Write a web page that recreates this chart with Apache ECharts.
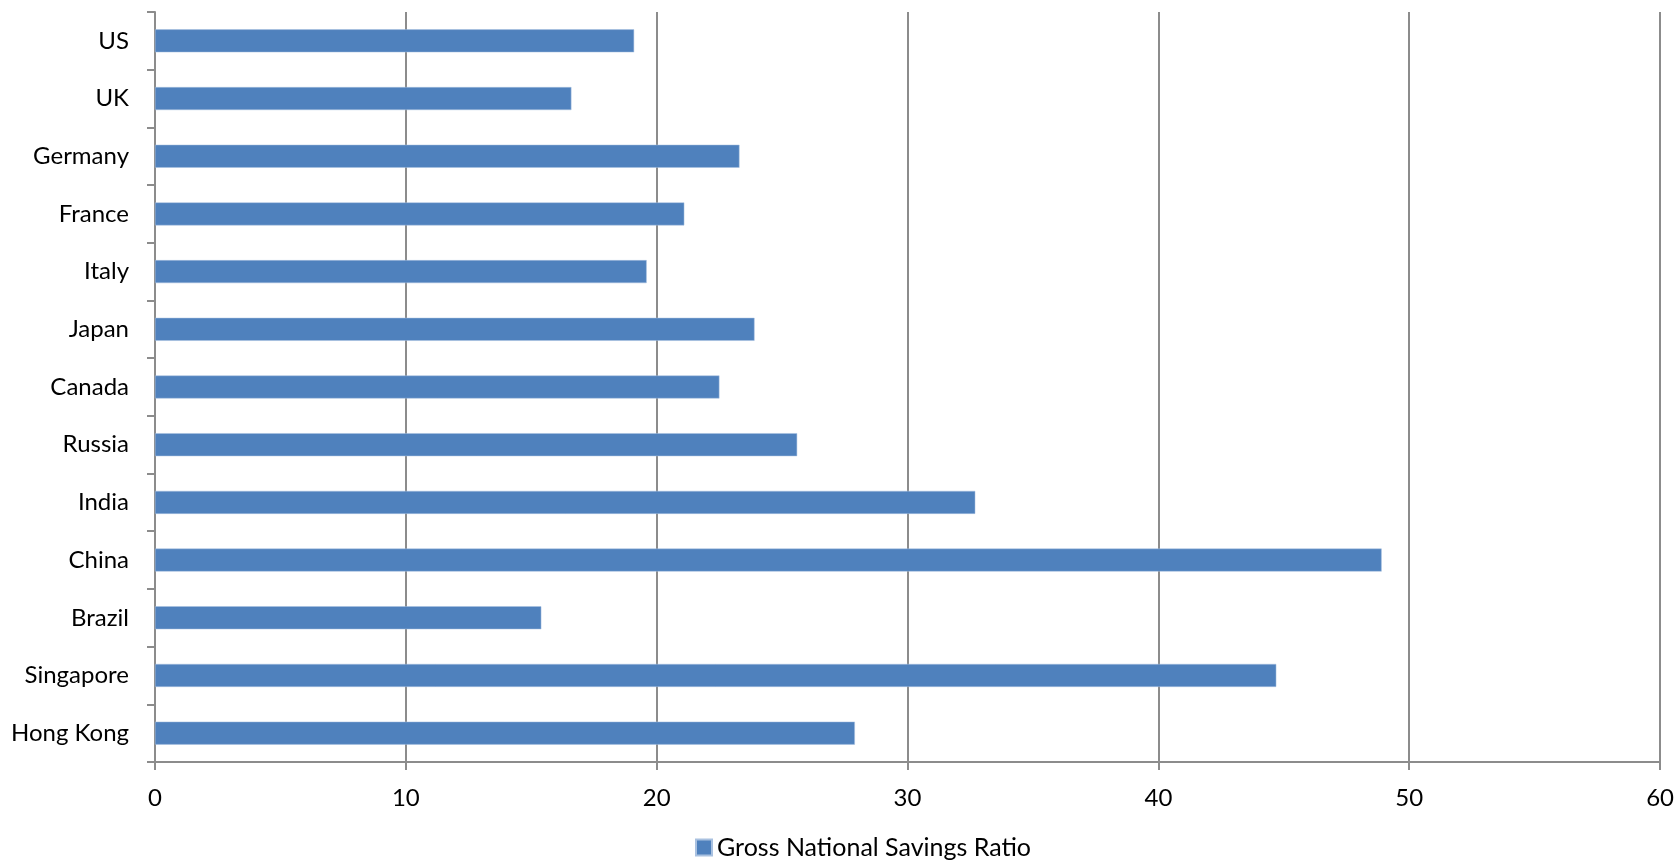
<!DOCTYPE html>
<html>
<head>
<meta charset="utf-8">
<script src="https://cdn.jsdelivr.net/npm/echarts@6/dist/echarts.min.js"></script>
<style>
html,body{margin:0;padding:0;background:#fff;}
#chart{width:1677px;height:865px;}
</style>
</head>
<body>
<div id="chart"></div>
<script>
const categories = ["US","UK","Germany","France","Italy","Japan","Canada","Russia","India","China","Brazil","Singapore","Hong Kong"];
const savingsRatio = [19.1,16.6,23.3,21.1,19.6,23.9,22.5,25.6,32.7,48.9,15.4,44.7,27.9];
const seriesName = "Gross National Savings Ratio";

const chart = echarts.init(document.getElementById('chart'));
const FONT = 'Lato, "Open Sans", sans-serif';
chart.setOption({
  animation:false,
  backgroundColor:'#ffffff',
  grid:{left:155,right:16,top:12,bottom:103,containLabel:false},
  legend:{
    bottom:0,
    left:690,
    itemWidth:16,itemHeight:16,itemGap:10,
    icon:'rect',
    textStyle:{fontFamily:FONT,fontSize:25,color:'#000'},
    data:[seriesName]
  },
  xAxis:{
    type:'value',min:0,max:60,interval:10,
    axisLine:{show:true,lineStyle:{color:'#8c8c8c',width:2}},
    axisTick:{show:true,length:8,lineStyle:{color:'#8c8c8c',width:2}},
    axisLabel:{fontFamily:FONT,fontSize:24,color:'#000',margin:24},
    splitLine:{show:true,lineStyle:{color:'#8c8c8c',width:2}}
  },
  yAxis:{
    type:'category',data:categories,inverse:true,
    axisLine:{show:true,lineStyle:{color:'#8c8c8c',width:2}},
    axisTick:{show:true,length:8,alignWithLabel:false,lineStyle:{color:'#8c8c8c',width:2}},
    axisLabel:{fontFamily:FONT,fontSize:24,color:'#000',margin:26},
    splitLine:{show:false}
  },
  series:[{
    name:seriesName,type:'bar',data:savingsRatio,
    barWidth:23,
    itemStyle:{color:'#4f81bd',borderColor:'#a9c1e0',borderWidth:0.5}
  }]
});
</script>
</body>
</html>
